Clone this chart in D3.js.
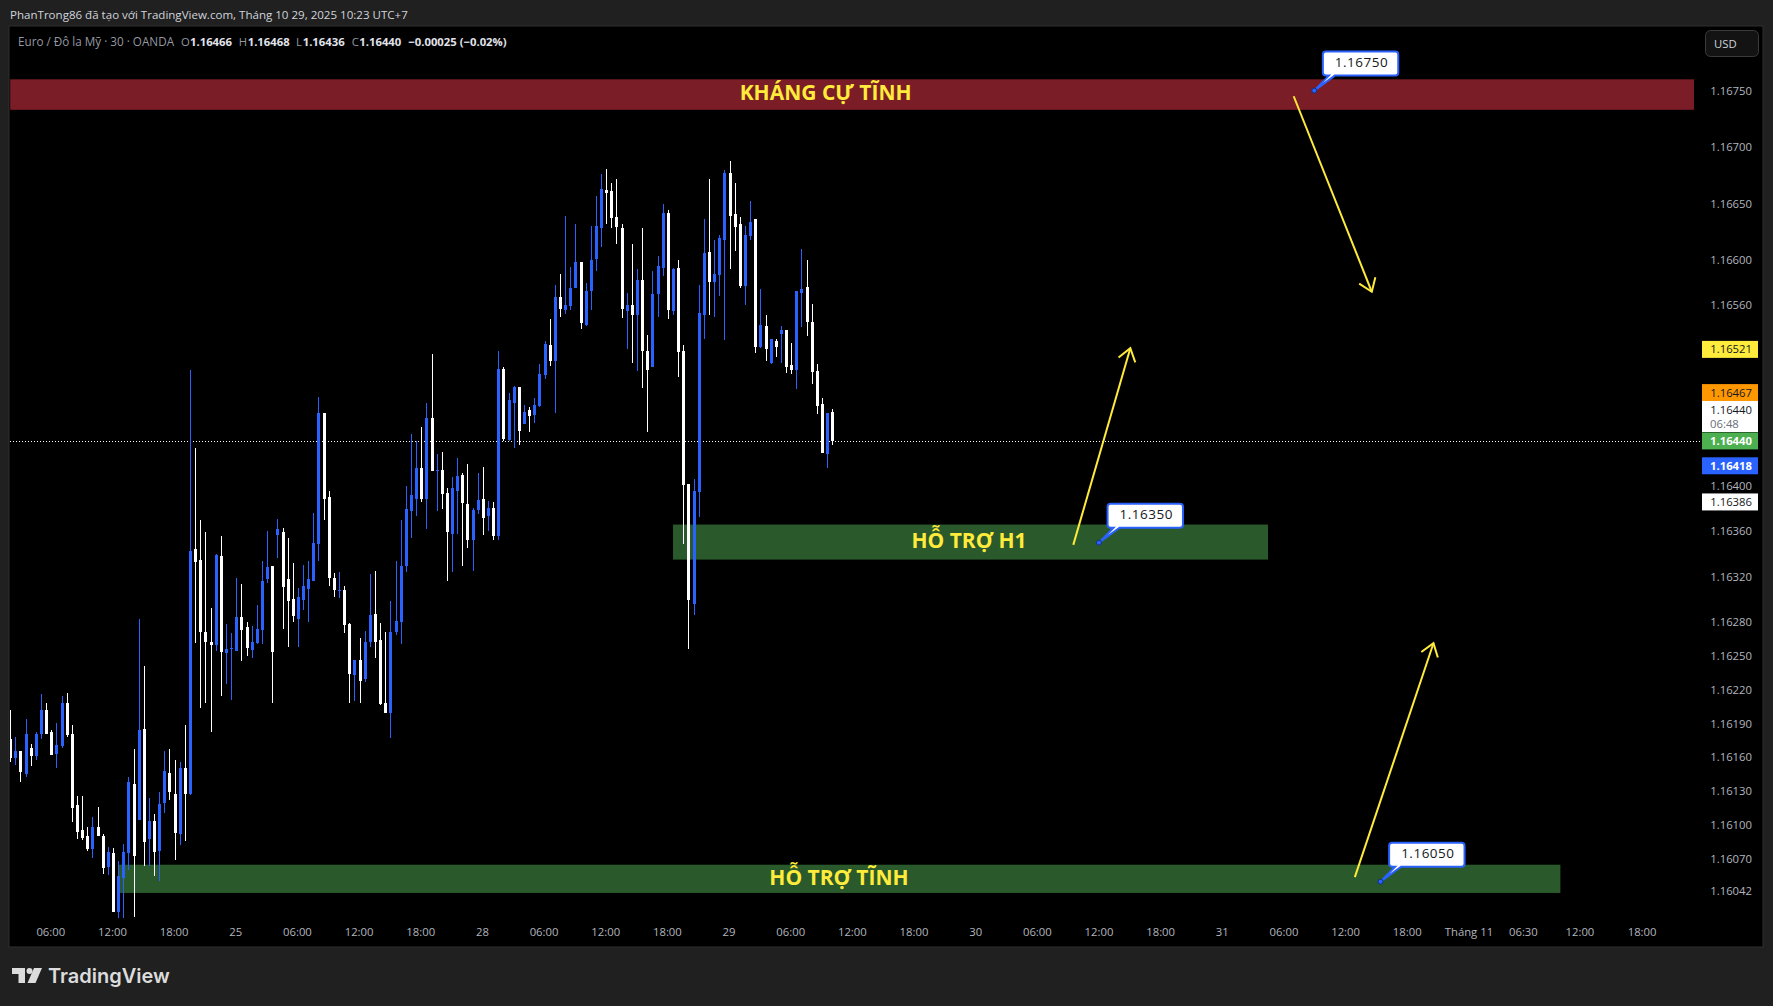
<!DOCTYPE html>
<html>
<head>
<meta charset="utf-8">
<title>EURUSD 30</title>
<script src="https://cdn.jsdelivr.net/npm/d3@7"></script>
<style>
  html, body { margin: 0; padding: 0; background: #202020; overflow: hidden; }
  text { font-family: "Open Sans", "Noto Sans", sans-serif; }
</style>
</head>
<body>
<div id="chart"></div>
<script>
// Candle values
const opens = [
  1.16176,1.16159,1.16166,1.16145,1.16168,1.16161,1.16181,1.16202,1.16182,1.16163,
  1.16170,1.16208,1.16181,1.16118,1.16096,1.16090,1.16079,1.16098,1.16090,1.16063,
  1.16075,1.16023,1.16053,1.16075,1.16136,1.16105,1.16185,1.16088,1.16104,1.16077,
  1.16120,1.16146,1.16128,1.16092,1.16151,1.16128,1.16344,1.16335,1.16271,1.16262,
  1.16259,1.16338,1.16252,1.16256,1.16254,1.16284,1.16275,1.16255,1.16261,1.16273,
  1.16318,1.16329,1.16357,1.16359,1.16318,1.16300,1.16282,1.16299,1.16309,1.16316,
  1.16349,1.16465,1.16390,1.16319,1.16307,1.16308,1.16278,1.16233,1.16246,1.16229,
  1.16262,1.16287,1.16264,1.16208,1.16199,1.16271,1.16280,1.16329,1.16378,1.16389,
  1.16416,1.16389,1.16460,1.16413,1.16414,1.16394,1.16358,1.16396,1.16410,1.16384,
  1.16352,1.16379,1.16389,1.16374,1.16381,1.16356,1.16504,1.16441,1.16474,1.16488,
  1.16455,1.16467,1.16463,1.16471,1.16498,1.16525,1.16511,1.16567,1.16556,1.16559,
  1.16575,1.16598,1.16543,1.16573,1.16601,1.16628,1.16662,1.16661,1.16638,1.16628,
  1.16555,1.16560,1.16551,1.16582,1.16520,1.16505,1.16570,1.16593,1.16642,1.16555,
  1.16593,1.16520,1.16402,1.16296,1.16395,1.16551,1.16607,1.16581,1.16587,1.16618,
  1.16677,1.16641,1.16632,1.16577,1.16621,1.16636,1.16523,1.16542,1.16509,1.16528,
  1.16535,1.16538,1.16507,1.16503,1.16571,1.16576,1.16545,1.16502,1.16473,1.16428,
  1.16466];
const highs = [
  1.16202,1.16178,1.16166,1.16194,1.16172,1.16182,1.16216,1.16208,1.16184,1.16190,
  1.16214,1.16217,1.16189,1.16126,1.16126,1.16098,1.16107,1.16116,1.16092,1.16081,
  1.16080,1.16068,1.16083,1.16143,1.16167,1.16282,1.16241,1.16124,1.16110,1.16129,
  1.16166,1.16167,1.16158,1.16156,1.16189,1.16503,1.16434,1.16370,1.16359,1.16292,
  1.16340,1.16356,1.16278,1.16270,1.16319,1.16313,1.16280,1.16276,1.16295,1.16334,
  1.16360,1.16329,1.16371,1.16363,1.16354,1.16332,1.16310,1.16330,1.16334,1.16376,
  1.16479,1.16465,1.16396,1.16323,1.16324,1.16312,1.16279,1.16246,1.16266,1.16272,
  1.16322,1.16325,1.16279,1.16271,1.16298,1.16334,1.16370,1.16400,1.16446,1.16440,
  1.16452,1.16474,1.16517,1.16428,1.16430,1.16398,1.16408,1.16425,1.16412,1.16420,
  1.16381,1.16412,1.16417,1.16387,1.16386,1.16520,1.16505,1.16482,1.16489,1.16488,
  1.16472,1.16470,1.16478,1.16508,1.16528,1.16548,1.16578,1.16588,1.16639,1.16594,
  1.16632,1.16598,1.16580,1.16630,1.16657,1.16676,1.16681,1.16668,1.16672,1.16632,
  1.16571,1.16614,1.16592,1.16628,1.16534,1.16590,1.16604,1.16650,1.16644,1.16593,
  1.16600,1.16525,1.16402,1.16406,1.16578,1.16636,1.16672,1.16618,1.16622,1.16680,
  1.16688,1.16668,1.16638,1.16630,1.16652,1.16636,1.16574,1.16551,1.16530,1.16530,
  1.16542,1.16538,1.16527,1.16573,1.16610,1.16600,1.16561,1.16508,1.16478,1.16465,
  1.16468];
const lows = [
  1.16156,1.16153,1.16138,1.16143,1.16152,1.16158,1.16176,1.16181,1.16162,1.16151,
  1.16168,1.16178,1.16103,1.16088,1.16087,1.16077,1.16071,1.16090,1.16057,1.16056,
  1.16023,1.16018,1.16018,1.16060,1.16019,1.16105,1.16064,1.16064,1.16055,1.16051,
  1.16111,1.16122,1.16069,1.16082,1.16086,1.16127,1.16261,1.16204,1.16208,1.16182,
  1.16254,1.16214,1.16225,1.16211,1.16254,1.16245,1.16250,1.16248,1.16260,1.16260,
  1.16314,1.16208,1.16336,1.16274,1.16258,1.16280,1.16258,1.16290,1.16280,1.16316,
  1.16334,1.16370,1.16312,1.16302,1.16301,1.16270,1.16208,1.16210,1.16208,1.16227,
  1.16258,1.16248,1.16206,1.16199,1.16177,1.16268,1.16260,1.16324,1.16354,1.16374,
  1.16386,1.16362,1.16413,1.16378,1.16380,1.16316,1.16324,1.16358,1.16329,1.16345,
  1.16325,1.16375,1.16357,1.16360,1.16352,1.16352,1.16440,1.16440,1.16434,1.16436,
  1.16455,1.16448,1.16456,1.16470,1.16495,1.16506,1.16465,1.16550,1.16552,1.16556,
  1.16575,1.16539,1.16542,1.16556,1.16590,1.16612,1.16632,1.16628,1.16614,1.16549,
  1.16521,1.16509,1.16502,1.16487,1.16448,1.16505,1.16550,1.16586,1.16548,1.16551,
  1.16497,1.16349,1.16256,1.16286,1.16373,1.16530,1.16551,1.16550,1.16568,1.16529,
  1.16592,1.16608,1.16575,1.16560,1.16618,1.16518,1.16522,1.16511,1.16508,1.16514,
  1.16509,1.16500,1.16499,1.16486,1.16541,1.16533,1.16490,1.16464,1.16429,1.16416,
  1.16436];
const closes = [
  1.16159,1.16166,1.16147,1.16181,1.16161,1.16181,1.16202,1.16181,1.16162,1.16171,
  1.16208,1.16180,1.16115,1.16094,1.16089,1.16079,1.16098,1.16090,1.16062,1.16076,
  1.16023,1.16055,1.16076,1.16138,1.16073,1.16184,1.16085,1.16104,1.16076,1.16119,
  1.16148,1.16129,1.16093,1.16151,1.16128,1.16343,1.16333,1.16271,1.16262,1.16259,
  1.16339,1.16253,1.16256,1.16257,1.16284,1.16273,1.16257,1.16262,1.16274,1.16316,
  1.16328,1.16253,1.16362,1.16311,1.16298,1.16285,1.16302,1.16312,1.16318,1.16350,
  1.16465,1.16389,1.16319,1.16308,1.16308,1.16277,1.16234,1.16246,1.16228,1.16262,
  1.16286,1.16262,1.16207,1.16199,1.16271,1.16281,1.16329,1.16380,1.16392,1.16416,
  1.16389,1.16460,1.16413,1.16414,1.16393,1.16359,1.16398,1.16409,1.16385,1.16352,
  1.16379,1.16388,1.16372,1.16381,1.16356,1.16504,1.16442,1.16476,1.16488,1.16449,
  1.16466,1.16462,1.16472,1.16499,1.16526,1.16511,1.16567,1.16557,1.16560,1.16575,
  1.16598,1.16544,1.16573,1.16600,1.16630,1.16663,1.16659,1.16637,1.16629,1.16557,
  1.16560,1.16551,1.16582,1.16520,1.16503,1.16570,1.16595,1.16642,1.16556,1.16592,
  1.16519,1.16401,1.16299,1.16396,1.16553,1.16606,1.16581,1.16588,1.16620,1.16677,
  1.16639,1.16629,1.16577,1.16622,1.16634,1.16523,1.16543,1.16521,1.16530,1.16523,
  1.16538,1.16505,1.16503,1.16573,1.16574,1.16545,1.16501,1.16471,1.16429,1.16465,
  1.16440];

// Axis ticks
const priceTicks = [1.1675,1.167,1.1665,1.166,1.1656,1.164,1.1636,1.1632,1.1628,1.1625,1.1622,1.1619,1.1616,1.1613,1.161,1.1607,1.16042];
const timeTickBars = [8,20,32,44,56,68,80,92,104,116,128,140,152,164,176,188,200,212,224,236,248,260,272,284,294.6,305.6,317.7];
const timeTickLabels = ["06:00","12:00","18:00","25","06:00","12:00","18:00","28","06:00","12:00","18:00","29","06:00","12:00","18:00","30","06:00","12:00","18:00","31","06:00","12:00","18:00","Tháng 11","06:30","12:00","18:00"];

// Zones drawn on the chart
const zoneLabels = ["KHÁNG CỰ TĨNH","HỖ TRỢ H1","HỖ TRỢ TĨNH"];
const zoneStarts = [0,129,21.1];
const zoneEnds = [327.7,244.8,301.7];
const zoneTops = [1.1676,1.16366,1.16065];
const zoneBottoms = [1.16733,1.16335,1.1604];
const zoneLabelBars = [158.7,186.6,161.3];
const zoneColors = ["#7b1d26","#2a5a2b","#2a5a2b"];

// Arrows
const arrowFromBars = [249.8,206.9,261.7];
const arrowFromPrices = [1.16745,1.16348,1.16054];
const arrowToBars = [265,218,277];
const arrowToPrices = [1.16572,1.16522,1.16261];

// Price notes
const noteBars = [253.8,211.9,266.7];
const notePrices = [1.1675,1.1635,1.1605];

// Tags on the price scale
const tagPrices = [1.16521,1.16467,1.16440,1.16418,1.16386];
const tagColors = ["#ffeb3b","#ff9800","#4caf50","#2962ff","#ffffff"];
const tagTextColors = ["#131722","#131722","#ffffff","#ffffff","#131722"];

const width = 1773, height = 1006;
const plot = { left: 10, top: 27, right: 1762, bottom: 946 };
const UP = "#2962ff", DOWN = "#ffffff", YELLOW = "#ffeb3b";

const x = d3.scaleLinear().domain([0, 160]).range([10.2, 832.3]);
const y = d3.scaleLinear().domain([1.1675, 1.16042]).range([90.6, 890.7]);
const fmt = d3.format(".5f");

const svg = d3.select("#chart").append("svg")
    .attr("width", width)
    .attr("height", height)
    .style("display", "block");

svg.append("rect").attr("width", width).attr("height", height).attr("fill", "#202020");
svg.append("rect")
    .attr("x", plot.left - 1).attr("y", plot.top - 1)
    .attr("width", plot.right - plot.left + 2).attr("height", plot.bottom - plot.top + 2)
    .attr("fill", "#000").attr("stroke", "#2e2e2e").attr("stroke-width", 1);

svg.append("clipPath").attr("id", "plotClip").append("rect")
    .attr("x", plot.left).attr("y", plot.top)
    .attr("width", plot.right - plot.left).attr("height", plot.bottom - plot.top);

const chart = svg.append("g").attr("clip-path", "url(#plotClip)");

// Zones go under the candles
chart.selectAll(".zone").data(zoneLabels).enter().append("rect")
    .attr("class", "zone")
    .attr("x", (d, i) => x(zoneStarts[i]))
    .attr("y", (d, i) => y(zoneTops[i]))
    .attr("width", (d, i) => x(zoneEnds[i]) - x(zoneStarts[i]))
    .attr("height", (d, i) => y(zoneBottoms[i]) - y(zoneTops[i]))
    .attr("fill", (d, i) => zoneColors[i]);

// Last price line
chart.append("line")
    .attr("x1", plot.left).attr("x2", 1702)
    .attr("y1", Math.round(y(1.1644)) + 0.5).attr("y2", Math.round(y(1.1644)) + 0.5)
    .attr("stroke", "#fff").attr("stroke-dasharray", "1 2");

// Candles
const candles = chart.selectAll(".candle").data(d3.range(opens.length)).enter().append("g")
    .attr("class", "candle")
    .attr("fill", i => closes[i] >= opens[i] ? UP : DOWN);

candles.append("rect")
    .attr("x", i => Math.round(x(i)))
    .attr("y", i => y(highs[i]))
    .attr("width", 1)
    .attr("height", i => y(lows[i]) - y(highs[i]))
    .attr("shape-rendering", "crispEdges");

candles.append("rect")
    .attr("x", i => Math.round(x(i)) - 1)
    .attr("y", i => y(Math.max(opens[i], closes[i])))
    .attr("width", 3)
    .attr("height", i => Math.max(1, Math.abs(y(opens[i]) - y(closes[i]))))
    .attr("shape-rendering", "crispEdges");

// Zone captions
chart.selectAll(".zoneLabel").data(zoneLabels).enter().append("text")
    .attr("class", "zoneLabel")
    .attr("x", (d, i) => x(zoneLabelBars[i]))
    .attr("y", (d, i) => (y(zoneTops[i]) + y(zoneBottoms[i])) / 2 - 1.5)
    .attr("dy", "0.35em")
    .attr("text-anchor", "middle")
    .attr("fill", YELLOW)
    .style("font-size", "21px")
    .style("font-weight", "700")
    .text(d => d);

// Arrows with open heads
arrowFromBars.forEach(function (b, i) {
    const x1 = x(b), y1 = y(arrowFromPrices[i]), x2 = x(arrowToBars[i]), y2 = y(arrowToPrices[i]);
    const a = Math.atan2(y2 - y1, x2 - x1);
    const head = 15;
    const wing = s => [x2 - head * Math.cos(a + s * 0.62), y2 - head * Math.sin(a + s * 0.62)];
    const g = chart.append("g").attr("fill", "none").attr("stroke", YELLOW).attr("stroke-width", 2);
    g.append("path").attr("d", d3.line()([[x1, y1], [x2, y2]]));
    g.append("path").attr("d", d3.line()([wing(1), [x2, y2], wing(-1)]));
});

// Price notes
notePrices.forEach(function (p, i) {
    const ax = x(noteBars[i]), ay = y(p);
    const l = ax + 8.6, r = ax + 84, t = ay - 39, b = ay - 15, c = 3;
    const outline = `M${l + c},${t}H${r - c}Q${r},${t} ${r},${t + c}V${b - c}Q${r},${b} ${r - c},${b}` +
        `H${l + 12}L${ax},${ay}L${l + 6},${b}H${l + c}Q${l},${b} ${l},${b - c}V${t + c}Q${l},${t} ${l + c},${t}Z`;
    chart.append("path").attr("d", outline)
        .attr("fill", "#fff").attr("stroke", UP).attr("stroke-width", 2);
    chart.append("circle").attr("cx", ax).attr("cy", ay).attr("r", 2.5)
        .attr("fill", UP).attr("stroke", "#12307a").attr("stroke-width", 1);
    chart.append("text")
        .attr("x", (l + r) / 2 + 1).attr("y", (t + b) / 2 - 1).attr("dy", "0.35em")
        .attr("text-anchor", "middle").attr("fill", "#131722")
        .style("font-size", "13.5px").style("letter-spacing", "0.5px")
        .text(fmt(p));
});

// Price axis
const yAxis = svg.append("g")
    .attr("transform", "translate(1752,0)")
    .call(d3.axisLeft(y).tickValues(priceTicks).tickSize(0).tickPadding(0).tickFormat(fmt));
yAxis.select(".domain").remove();
yAxis.selectAll("text").attr("fill", "#b2b5be").style("font-size", "11.3px");

// Time axis
const xAxis = svg.append("g")
    .attr("transform", "translate(-1,928)")
    .call(d3.axisBottom(x).tickValues(timeTickBars).tickSize(0).tickPadding(0)
        .tickFormat((d, i) => timeTickLabels[i]));
xAxis.select(".domain").remove();
xAxis.selectAll("text").attr("fill", "#b2b5be").style("font-size", "11.3px");

// Price scale tags, the orange one is stacked above the countdown box
tagPrices.forEach(function (p, i) {
    const cy = tagColors[i] === "#ff9800" ? 392.6 : y(p);
    svg.append("rect").attr("x", 1702).attr("y", cy - 8.5).attr("width", 56).attr("height", 17)
        .attr("fill", tagColors[i]);
    svg.append("text").attr("x", 1752).attr("y", cy).attr("dy", "0.35em")
        .attr("text-anchor", "end").attr("fill", tagTextColors[i])
        .style("font-size", "11.3px")
        .style("font-weight", tagTextColors[i] === "#ffffff" ? "700" : "400")
        .text(fmt(p));
});

// Countdown box above the last price tag
svg.append("rect").attr("x", 1702).attr("y", 401).attr("width", 56).attr("height", 31).attr("fill", "#fff");
svg.append("text").attr("x", 1752).attr("y", 410).attr("dy", "0.35em").attr("text-anchor", "end")
    .attr("fill", "#131722").style("font-size", "11.3px").text("1.16440");
svg.append("text").attr("x", 1710).attr("y", 424).attr("dy", "0.35em")
    .attr("fill", "#6a6d78").style("font-size", "11.3px").text("06:48");

// Currency button
svg.append("rect").attr("x", 1705.5).attr("y", 30.5).attr("width", 53).attr("height", 26).attr("rx", 5)
    .attr("fill", "#131313").attr("stroke", "#3a3a3a");
svg.append("text").attr("x", 1714).attr("y", 44).attr("dy", "0.35em")
    .attr("fill", "#d1d4dc").style("font-size", "11.3px").text("USD");

// Header line
svg.append("text").attr("x", 10).attr("y", 15).attr("dy", "0.35em")
    .attr("fill", "#d1d4dc").style("font-size", "11.56px")
    .text("PhanTrong86 đã tạo với TradingView.com, Tháng 10 29, 2025 10:23 UTC+7");

// Legend line
const legendParts = [
    ["Euro / Đô la Mỹ · 30 · OANDA", 18, "#9598a1", 400, 11.7],
    ["O", 181, "#9598a1", 400, 11.3], [fmt(opens[160]), 190, "#e0e3eb", 700, 11.3],
    ["H", 238.7, "#9598a1", 400, 11.3], [fmt(highs[160]), 247.7, "#e0e3eb", 700, 11.3],
    ["L", 296, "#9598a1", 400, 11.3], [fmt(lows[160]), 302.7, "#e0e3eb", 700, 11.3],
    ["C", 351.7, "#9598a1", 400, 11.3], [fmt(closes[160]), 359.3, "#e0e3eb", 700, 11.3],
    ["−0.00025 (−0.02%)", 408.3, "#e0e3eb", 700, 11.3]
];
svg.selectAll(".legend").data(legendParts).enter().append("text")
    .attr("class", "legend")
    .attr("x", d => d[1]).attr("y", 42).attr("dy", "0.35em")
    .attr("fill", d => d[2])
    .style("font-size", d => d[4] + "px").style("font-weight", d => d[3])
    .text(d => d[0]);

// TradingView mark
const logo = svg.append("g").attr("transform", "translate(12,968)").attr("fill", "#dcdcdc");
logo.append("path").attr("d", "M0,0H13V15H6.5V6H0Z");
logo.append("circle").attr("cx", 17.5).attr("cy", 3).attr("r", 3);
logo.append("path").attr("d", "M22,0H30L23.5,15H15.5Z");
svg.append("text").attr("x", 48).attr("y", 976).attr("dy", "0.35em")
    .attr("fill", "#dcdcdc").style("font-family", "Inter, sans-serif")
    .style("font-size", "20px").style("font-weight", "600")
    .text("TradingView");
</script>
</body>
</html>
